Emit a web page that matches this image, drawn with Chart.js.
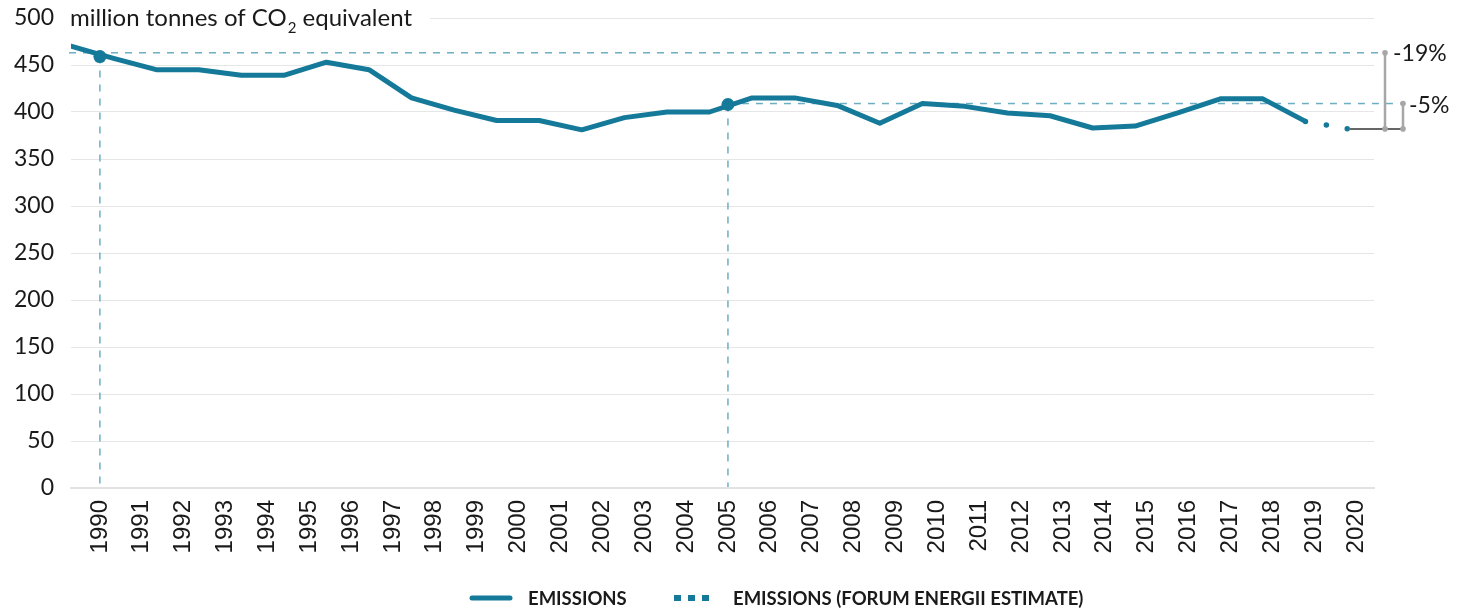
<!DOCTYPE html>
<html><head><meta charset="utf-8">
<script src="https://cdn.jsdelivr.net/npm/chart.js@4.4.1/dist/chart.umd.min.js"></script>
<style>html,body{margin:0;padding:0;background:#fff;}#wrap{width:1462px;height:609px;position:relative;}</style>
</head><body><div id="wrap"><canvas id="c" width="1462" height="609"></canvas></div>
<script>
const years = [1990,1991,1992,1993,1994,1995,1996,1997,1998,1999,2000,2001,2002,2003,2004,2005,2006,2007,2008,2009,2010,2011,2012,2013,2014,2015,2016,2017,2018,2019,2020];
const emissions = [470,457,445,445,439,439,453,445,415,402,391,391,381,394,400,400,415,415,407,388,409,406,399,396,383,385,399,414,414,390,null];
const estimate = [null,null,null,null,null,null,null,null,null,null,null,null,null,null,null,null,null,null,null,null,null,null,null,null,null,null,null,null,null,390,382];
const yTicks = [0,50,100,150,200,250,300,350,400,450,500];
const refYears = [1990, 2005];
const refMarkers = [459, 408];
const refLevels = [463, 409];
const changeLabels = ['-19%', '-5%'];
const unitParts = ['million tonnes of CO', '2', ' equivalent'];
const legendLabels = ['EMISSIONS', 'EMISSIONS (FORUM ENERGII ESTIMATE)'];

const TEAL = '#157a99';
const REF = '#6cafc3';
const GREY = '#a7a7a7';
const TXT = '#1a1a1a';

const pts = (vals, xs) => xs.map((x, i) => ({x: x, y: vals[i]})).filter(p => p.y !== null);

const annot = {
  id: 'annot',
  beforeDatasetsDraw(chart) {
    const {ctx, chartArea: a, scales} = chart;
    const xl = scales.xl, y = scales.y;
    ctx.save();
    ctx.fillStyle = '#fff';
    ctx.fillRect(64, 2, 366, 34);
    ctx.fillStyle = TXT;
    ctx.textBaseline = 'alphabetic';
    ctx.font = '24px Lato';
    let tx = 70;
    ctx.fillText(unitParts[0], tx, 26);
    tx += ctx.measureText(unitParts[0]).width;
    ctx.font = '15px Lato';
    ctx.fillText(unitParts[1], tx + 1, 33);
    tx += ctx.measureText(unitParts[1]).width + 1;
    ctx.font = '24px Lato';
    ctx.fillText(unitParts[2], tx, 26);
    ctx.strokeStyle = REF;
    ctx.lineWidth = 1.5;
    ctx.setLineDash([7, 7]);
    const ends = [a.right + 11, a.right + 29];
    refYears.forEach((yr, i) => {
      const px = xl.getPixelForValue(yr);
      const py = y.getPixelForValue(refLevels[i]);
      const pm = y.getPixelForValue(refMarkers[i]);
      ctx.beginPath();
      ctx.moveTo(i === 0 ? a.left - 2 : px, py);
      ctx.lineTo(ends[i], py);
      ctx.stroke();
      ctx.beginPath();
      ctx.moveTo(px, pm);
      ctx.lineTo(px, a.bottom - 1);
      ctx.stroke();
    });
    ctx.restore();
  },
  afterDatasetsDraw(chart) {
    const {ctx, chartArea: a, scales} = chart;
    const x = scales.x, y = scales.y;
    const lastVal = estimate[estimate.length - 1];
    const lastX = x.getPixelForValue(years[years.length - 1]);
    const ly = y.getPixelForValue(lastVal);
    const bx = [a.right + 11, a.right + 29];
    ctx.save();
    ctx.strokeStyle = '#333';
    ctx.lineWidth = 1.5;
    ctx.beginPath();
    ctx.moveTo(lastX + 2, ly);
    ctx.lineTo(bx[1], ly);
    ctx.stroke();
    ctx.strokeStyle = GREY;
    ctx.fillStyle = GREY;
    ctx.lineWidth = 2.5;
    refLevels.forEach((v, i) => {
      const ty = y.getPixelForValue(v);
      ctx.beginPath();
      ctx.moveTo(bx[i], ty);
      ctx.lineTo(bx[i], ly);
      ctx.stroke();
      [ty, ly].forEach(yy => { ctx.beginPath(); ctx.arc(bx[i], yy, 2.8, 0, Math.PI * 2); ctx.fill(); });
    });
    ctx.fillStyle = TXT;
    ctx.font = '23px Lato';
    ctx.textBaseline = 'middle';
    ctx.textAlign = 'left';
    ctx.fillText(changeLabels[0], bx[0] + 8, y.getPixelForValue(refLevels[0]) + 1);
    ctx.fillText(changeLabels[1], bx[1] + 6, y.getPixelForValue(refLevels[1]) + 2);
    ctx.restore();
  },
  afterDraw(chart) {
    const {ctx} = chart;
    const ds = chart.data.datasets;
    ctx.save();
    const ly = 598;
    ctx.lineWidth = 5;
    ctx.strokeStyle = ds[1].borderColor;
    ctx.lineCap = 'round';
    ctx.beginPath(); ctx.moveTo(472, ly); ctx.lineTo(510, ly); ctx.stroke();
    ctx.lineCap = 'butt';
    ctx.lineWidth = 6;
    ctx.strokeStyle = ds[2].borderColor;
    ctx.setLineDash([7, 7]);
    ctx.beginPath(); ctx.moveTo(674, ly); ctx.lineTo(710, ly); ctx.stroke();
    ctx.setLineDash([]);
    ctx.fillStyle = TXT;
    ctx.font = 'bold 18.5px Lato';
    ctx.textBaseline = 'middle';
    ctx.fillText(legendLabels[0], 528, ly + 1);
    ctx.fillText(legendLabels[1], 733, ly + 1);
    ctx.restore();
  }
};

new Chart(document.getElementById('c'), {
  data: {
    datasets: [
      {type: 'scatter', label: 'markers', xAxisID: 'xl', data: pts(refMarkers, refYears),
       pointRadius: 6.5, pointHoverRadius: 6.5, backgroundColor: TEAL, borderWidth: 0, order: 0},
      {type: 'line', label: legendLabels[0], xAxisID: 'x', data: pts(emissions, years),
       borderColor: TEAL, borderWidth: 5, pointRadius: 0, tension: 0,
       borderCapStyle: 'round', borderJoinStyle: 'round', order: 1},
      {type: 'line', label: legendLabels[1], xAxisID: 'x', data: pts(estimate, years),
       borderColor: TEAL, borderWidth: 5.5, pointRadius: 0, tension: 0,
       borderCapStyle: 'round', borderDash: [0, 21.2], order: 2}
    ]
  },
  options: {
    responsive: false,
    animation: false,
    events: [],
    layout: {padding: {top: 18, right: 88, left: 0, bottom: 0}},
    plugins: {legend: {display: false}, tooltip: {enabled: false}},
    scales: {
      x: {type: 'linear', display: false, min: 1990, max: 2020.61},
      xl: {type: 'linear', position: 'bottom', min: 1989.31, max: 2020.43,
        afterBuildTicks: s => { s.ticks = years.map(v => ({value: v})); },
        afterFit: s => { s.height = 121; s.paddingLeft = 0; s.paddingRight = 0; },
        ticks: {autoSkip: false, maxRotation: 90, minRotation: 90, padding: 12,
          font: {family: 'Liberation Sans', size: 24}, color: TXT, callback: v => String(v)},
        grid: {display: false, drawTicks: false},
        border: {display: true, color: '#e2e2e2', width: 2}},
      y: {type: 'linear', min: 0, max: 500,
        afterBuildTicks: s => { s.ticks = yTicks.map(v => ({value: v})); },
        afterFit: s => { s.width = 71; s.paddingTop = 0; s.paddingBottom = 0; },
        ticks: {padding: 17, font: {family: 'Lato', size: 23}, color: TXT},
        grid: {color: '#e6e6e6', drawTicks: false},
        border: {display: false}}
    }
  },
  plugins: [annot]
});
</script></body></html>
